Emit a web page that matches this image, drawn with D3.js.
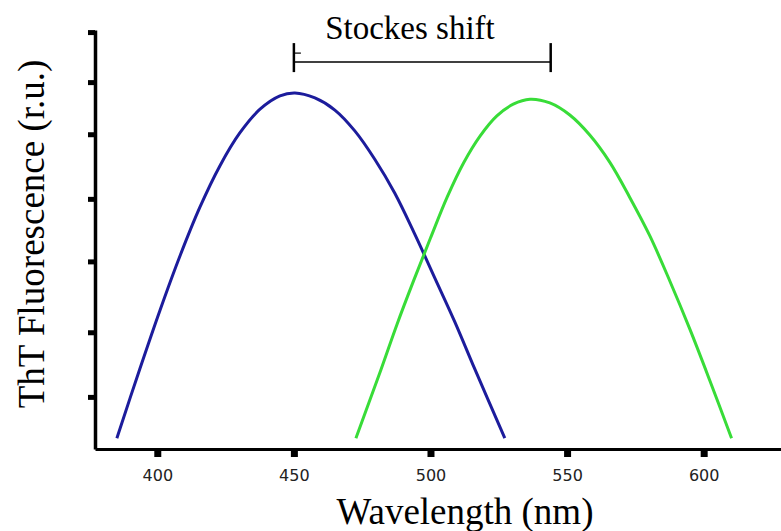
<!DOCTYPE html>
<html>
<head>
<meta charset="utf-8">
<script src="https://d3js.org/d3.v7.min.js"></script>
<style>
  body { margin: 0; background: #fff; }
</style>
</head>
<body>
<svg id="drawing_region"></svg>
<script>
// wavelength (nm) / intensity (r.u.)
const blueWave = [385.2, 393.6, 401.0, 408.3, 415.6, 422.9, 430.2, 437.6, 444.9, 450.4,
                  457.7, 465.0, 472.3, 479.6, 486.9, 494.2, 501.6, 508.9, 516.2, 527.2];
const blueVal  = [2.6, 19.2, 33.3, 46.3, 58.0, 67.9, 75.8, 81.5, 84.7, 85.4,
                  84.2, 81.3, 76.3, 69.5, 61.4, 51.6, 41.0, 30.5, 19.2, 2.6];

const greenWave = [472.7, 481.8, 487.8, 493.9, 500.0, 506.1, 512.1, 518.2, 524.3, 530.3, 536.4,
                   543.7, 551.0, 558.3, 565.6, 572.9, 580.3, 587.6, 594.9, 602.2, 610.2];
const greenVal  = [2.6, 18.9, 30.0, 40.5, 50.6, 60.4, 68.6, 75.1, 79.9, 82.7, 83.9,
                   83.0, 80.1, 75.3, 68.8, 60.4, 51.1, 40.3, 28.8, 16.5, 2.6];

const xTicks = [400, 450, 500, 550, 600];
const yTicks = [12.5, 28, 45, 60, 75.5, 88, 100];

const stokesFrom = 450;
const stokesTo = 544;
const stokesLevel = 92.8;

const config = {
    width: 781,
    height: 531,
    left: 95,
    right: 781,
    top: 30,
    bottom: 449,
};

const svg = d3.select('#drawing_region')
    .attr('width', config.width)
    .attr('height', config.height);

const xscale = d3.scaleLinear()
    .domain([377.2, 628.3])
    .range([config.left, config.right]);

const yscale = d3.scaleLinear()
    .domain([0, 100.5])
    .range([config.bottom, config.top]);

const line = d3.line()
    .x(d => xscale(d[0]))
    .y(d => yscale(d[1]))
    .curve(d3.curveCatmullRom);

svg.append('path')
    .attr('d', line(d3.zip(blueWave, blueVal)))
    .attr('fill', 'none')
    .attr('stroke', '#1c1c9c')
    .attr('stroke-width', 3);

svg.append('path')
    .attr('d', line(d3.zip(greenWave, greenVal)))
    .attr('fill', 'none')
    .attr('stroke', '#38dc38')
    .attr('stroke-width', 3);

// axes
const xaxis = d3.axisBottom(xscale)
    .tickValues(xTicks)
    .tickSize(8)
    .tickPadding(13)
    .tickSizeOuter(0);

const xg = svg.append('g')
    .attr('transform', `translate(0, ${config.bottom})`)
    .call(xaxis);
xg.select('.domain').attr('stroke', '#000').attr('stroke-width', 3);
xg.selectAll('.tick line').attr('stroke', '#000').attr('stroke-width', 7);
xg.selectAll('.tick text')
    .attr('font-family', 'DejaVu Sans, sans-serif')
    .attr('font-size', 16)
    .attr('fill', '#222');

const yaxis = d3.axisLeft(yscale)
    .tickValues(yTicks)
    .tickSize(7)
    .tickFormat('')
    .tickSizeOuter(0);

const yg = svg.append('g')
    .attr('transform', `translate(${config.left}, 0)`)
    .call(yaxis);
yg.select('.domain').attr('stroke', '#000').attr('stroke-width', 3.5);
yg.selectAll('.tick line').attr('stroke', '#000').attr('stroke-width', 5);

// stokes shift bracket
const by = yscale(stokesLevel);
const bracket = svg.append('g')
    .attr('stroke', '#000')
    .attr('fill', 'none');
bracket.append('line')
    .attr('x1', xscale(stokesFrom)).attr('x2', xscale(stokesTo))
    .attr('y1', by).attr('y2', by)
    .attr('stroke-width', 1.5);
[stokesFrom, stokesTo].forEach(v => {
    bracket.append('line')
        .attr('x1', xscale(v)).attr('x2', xscale(v))
        .attr('y1', by - 19).attr('y2', by + 10)
        .attr('stroke-width', 2.5);
});
bracket.append('line')
    .attr('x1', xscale(stokesFrom)).attr('x2', xscale(stokesFrom) + 7)
    .attr('y1', by - 9).attr('y2', by - 9)
    .attr('stroke-width', 1.2);

svg.append('text')
    .attr('x', 410)
    .attr('y', 39)
    .attr('text-anchor', 'middle')
    .attr('font-family', 'Liberation Serif, Times New Roman, serif')
    .attr('font-size', 33)
    .text('Stockes shift');

svg.append('text')
    .attr('x', 465)
    .attr('y', 524)
    .attr('text-anchor', 'middle')
    .attr('font-family', 'Liberation Serif, Times New Roman, serif')
    .attr('font-size', 37)
    .text('Wavelength (nm)');

svg.append('text')
    .attr('transform', 'translate(44, 234) rotate(-90)')
    .attr('text-anchor', 'middle')
    .attr('font-family', 'Liberation Serif, Times New Roman, serif')
    .attr('font-size', 37)
    .text('ThT Fluorescence (r.u.)');
</script>
</body>
</html>
